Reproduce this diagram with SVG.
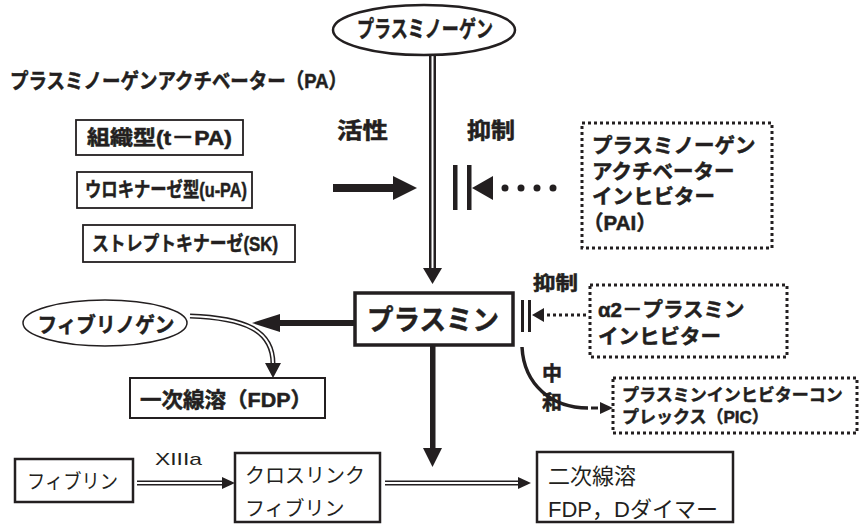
<svg xmlns="http://www.w3.org/2000/svg" width="862" height="525" viewBox="0 0 862 525">
<style>
.b{font-family:"Liberation Sans","Noto Sans CJK JP",sans-serif;font-weight:700;fill:#231f20;stroke:#231f20;stroke-width:0.5;dominant-baseline:central}
.r{font-family:"Liberation Sans","Noto Sans CJK JP",sans-serif;font-weight:400;fill:#231f20;dominant-baseline:central}
.box{fill:#fff;stroke:#231f20}
.dot{fill:#fff;stroke:#231f20;stroke-width:3;stroke-dasharray:3 3}
.dbl{fill:none;stroke:#231f20}
.dblw{fill:none;stroke:#fff}
.k{fill:#231f20}
</style>
<rect width="862" height="525" fill="#fff"/>

<g id="connectors">
  <line class="dbl" x1="432.5" y1="55" x2="432.5" y2="270" stroke-width="7"/>
  <line class="dblw" x1="432.5" y1="55" x2="432.5" y2="270" stroke-width="2"/>
  <polygon class="k" points="423,268 442,268 432.5,284"/>
  <rect class="k" x="333" y="184" width="62" height="8"/>
  <polygon class="k" points="393,176 417,188 393,200"/>
  <rect class="k" x="453" y="165" width="4.5" height="45"/>
  <rect class="k" x="467" y="165" width="4.5" height="45"/>
  <polygon class="k" points="472,188 493,176 493,200"/>
  <circle class="k" cx="505" cy="188" r="3.5"/>
  <circle class="k" cx="521" cy="188" r="3.5"/>
  <circle class="k" cx="537" cy="188" r="3.5"/>
  <circle class="k" cx="553" cy="188" r="3.5"/>
  <rect class="k" x="521" y="300" width="3" height="32"/>
  <rect class="k" x="528" y="300" width="3" height="32"/>
  <polygon class="k" points="532,315 544,308 544,322"/>
  <line x1="547" y1="315" x2="589" y2="315" stroke="#231f20" stroke-width="3" stroke-dasharray="3 3"/>
  <path d="M522,347 C524,385 552,408 588,408" fill="none" stroke="#231f20" stroke-width="3.5"/>
  <line x1="591" y1="408" x2="598" y2="408" stroke="#231f20" stroke-width="3"/>
  <polygon class="k" points="600,402 613,408 600,414"/>
  <rect class="k" x="278" y="320" width="77" height="6"/>
  <polygon class="k" points="280,314 252,323 280,332"/>
  <path class="dbl" d="M190,316 C245,318 273,330 273,364" stroke-width="5"/>
  <path class="dblw" d="M189,316 C245,318 273,330 273,364" stroke-width="2"/>
  <polygon class="k" points="265,363 281,363 273,378"/>
  <rect class="k" x="430" y="345" width="5.5" height="105"/>
  <polygon class="k" points="423,448 442,448 432.5,467"/>
  <line class="dbl" x1="137" y1="483" x2="224" y2="483" stroke-width="5"/>
  <line class="dblw" x1="137" y1="483" x2="224" y2="483" stroke-width="2"/>
  <polygon class="k" points="222,477 235,483 222,489"/>
  <line class="dbl" x1="385" y1="483" x2="520" y2="483" stroke-width="5"/>
  <line class="dblw" x1="385" y1="483" x2="520" y2="483" stroke-width="2"/>
  <polygon class="k" points="518,477 531,483 518,489"/>
</g>

<g id="plasminogen">
  <ellipse cx="424" cy="30" rx="91" ry="25" fill="#fff" stroke="#231f20" stroke-width="2.5"/>
  <text class="b" x="425" y="29" font-size="23" text-anchor="middle" textLength="136" lengthAdjust="spacingAndGlyphs">プラスミノーゲン</text>
</g>

<g id="pa-title">
  <text class="b" x="10" y="80" font-size="21" textLength="337" lengthAdjust="spacingAndGlyphs">プラスミノーゲンアクチベーター（PA）</text>
</g>

<g id="tpa">
  <rect class="box" x="76" y="120" width="167" height="35" stroke-width="1.8"/>
  <text class="b" x="87" y="138" font-size="20" textLength="145" lengthAdjust="spacingAndGlyphs">組織型(t－PA)</text>
</g>
<g id="upa">
  <rect class="box" x="77" y="172" width="175" height="36" stroke-width="1.8"/>
  <text class="b" x="85" y="190" font-size="20" textLength="162" lengthAdjust="spacingAndGlyphs">ウロキナーゼ型(u-PA)</text>
</g>
<g id="sk">
  <rect class="box" x="83" y="225" width="212" height="37" stroke-width="1.8"/>
  <text class="b" x="92" y="244" font-size="20" textLength="186" lengthAdjust="spacingAndGlyphs">ストレプトキナーゼ(SK)</text>
</g>

<g id="label-activation">
  <text class="b" x="337" y="130" font-size="22" textLength="51" lengthAdjust="spacingAndGlyphs">活性</text>
</g>
<g id="label-inhibit1">
  <text class="b" x="467" y="130" font-size="22" textLength="48" lengthAdjust="spacingAndGlyphs">抑制</text>
</g>

<g id="pai">
  <rect class="dot" x="582" y="123" width="190" height="125"/>
  <text class="b" font-size="20.5"><tspan x="592" y="145">プラスミノーゲン</tspan><tspan x="592" y="170.5">アクチベーター</tspan><tspan x="592" y="196">インヒビター</tspan><tspan x="583" y="222">（PAI）</tspan></text>
</g>

<g id="plasmin">
  <rect class="box" x="355" y="293" width="158" height="52" stroke-width="3.5"/>
  <text class="b" x="433" y="320" font-size="28" text-anchor="middle" textLength="132" lengthAdjust="spacingAndGlyphs">プラスミン</text>
</g>

<g id="label-inhibit2">
  <text class="b" x="533" y="283" font-size="19" textLength="45" lengthAdjust="spacingAndGlyphs">抑制</text>
</g>

<g id="a2pi">
  <rect class="dot" x="590" y="285" width="197" height="72"/>
  <text class="b" font-size="20.5"><tspan x="598" y="309">α2－プラスミン</tspan><tspan x="598" y="336">インヒビター</tspan></text>
</g>

<g id="label-neutral">
  <text class="b" font-size="20" text-anchor="middle"><tspan x="552" y="374">中</tspan><tspan x="552" y="403">和</tspan></text>
</g>

<g id="pic">
  <rect class="dot" x="613" y="378" width="244" height="55"/>
  <text class="b" font-size="17"><tspan x="622" y="395">プラスミンインヒビターコン</tspan><tspan x="622" y="417">プレックス（PIC）</tspan></text>
</g>

<g id="fibrinogen">
  <ellipse cx="105" cy="323" rx="82" ry="23" fill="#fff" stroke="#231f20" stroke-width="1.5"/>
  <text class="b" x="106" y="324" font-size="21" text-anchor="middle" textLength="137" lengthAdjust="spacingAndGlyphs">フィブリノゲン</text>
</g>

<g id="fdp1">
  <rect class="box" x="130" y="378" width="195" height="40" stroke-width="2"/>
  <text class="b" x="140" y="399" font-size="21" textLength="172" lengthAdjust="spacingAndGlyphs">一次線溶（FDP）</text>
</g>

<g id="fibrin">
  <rect class="box" x="15" y="459" width="118" height="43" stroke-width="2.5"/>
  <text class="r" x="27" y="482" font-size="20" textLength="91" lengthAdjust="spacingAndGlyphs">フィブリン</text>
</g>

<g id="label-xiiia">
  <text class="r" x="155" y="459" font-size="17" textLength="47" lengthAdjust="spacingAndGlyphs">XIIIa</text>
</g>

<g id="crosslink">
  <rect class="box" x="235" y="453" width="145" height="69" stroke-width="2.5"/>
  <text class="r" font-size="20"><tspan x="245" y="476">クロスリンク</tspan><tspan x="245" y="509">フィブリン</tspan></text>
</g>

<g id="fdp2">
  <rect class="box" x="537" y="452" width="196" height="70" stroke-width="2.5"/>
  <text class="r" font-size="22"><tspan x="548" y="476">二次線溶</tspan><tspan x="548" y="509">FDP，Dダイマー</tspan></text>
</g>
</svg>
